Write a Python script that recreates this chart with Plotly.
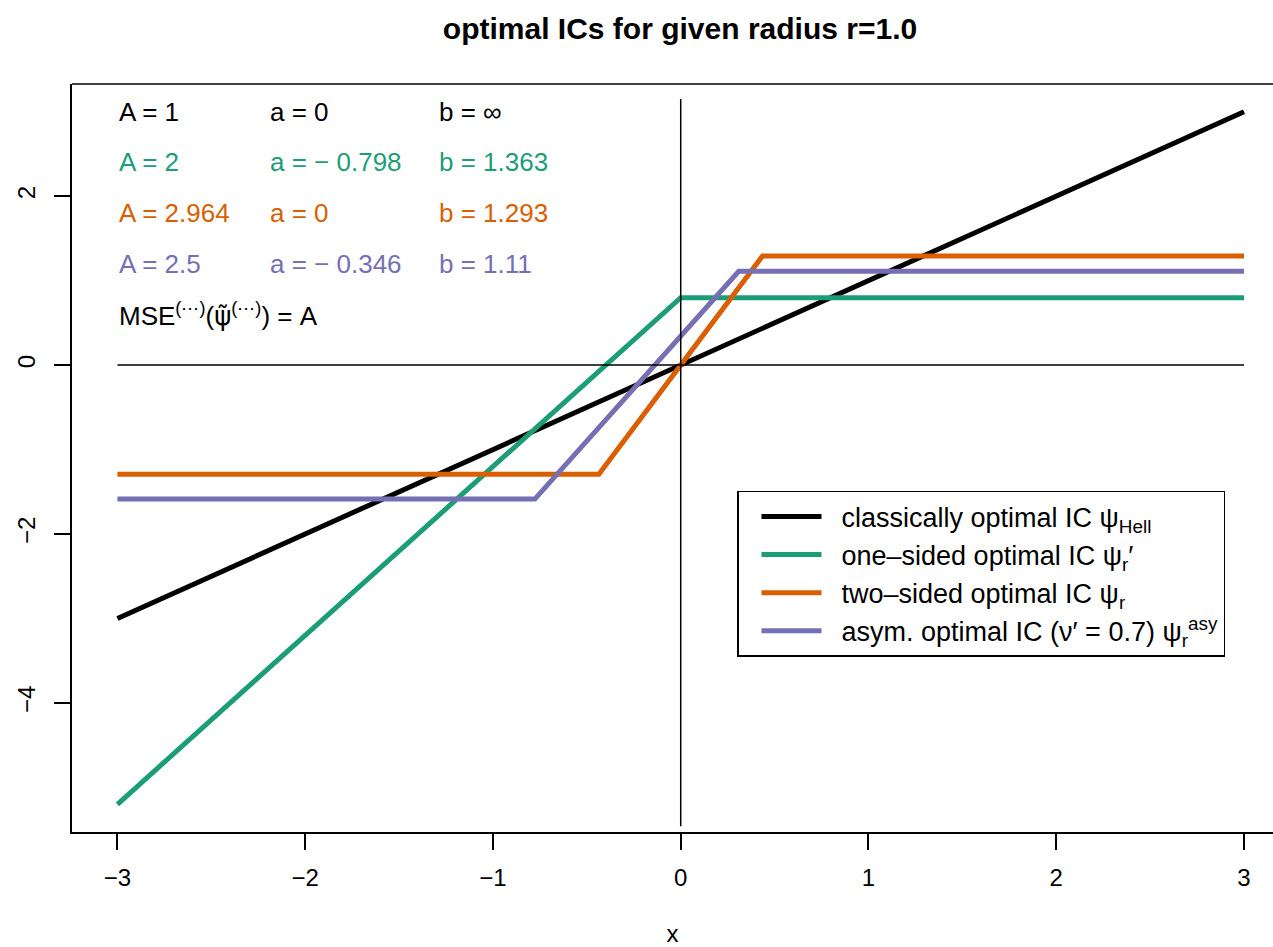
import plotly.graph_objects as go

# ---- data ----
x_classic = [-3, 3]
y_classic = [-3, 3]
x_onesided = [-3, 0, 3]
y_onesided = [-5.2, 0.798, 0.798]
x_twosided = [-3, -0.436, 0.436, 3]
y_twosided = [-1.293, -1.293, 1.293, 1.293]
x_asym = [-3, -0.777, 0.309, 3]
y_asym = [-1.586, -1.586, 1.11, 1.11]

x_hline = [-3, 3]
y_hline = [0, 0]
x_vline = [0, 0]
y_vline = [-5.46, 3.15]

NB = "\u00a0\u00a0"
series_names = [
    NB + "classically optimal IC ψ<sub>Hell</sub>",
    NB + "one–sided optimal IC ψ<sub>r</sub>′",
    NB + "two–sided optimal IC ψ<sub>r</sub>",
    NB + "asym. optimal IC (ν′ = 0.7) ψ<sub>r</sub><sup>asy</sup>",
]
colors = ["#000000", "#1B9E77", "#D95F02", "#7570B3"]

col_A = ["A = 1", "A = 2", "A = 2.964", "A = 2.5"]
col_a = ["a = 0", "a = − 0.798", "a = 0", "a = − 0.346"]
col_b = ["b = ∞", "b = 1.363", "b = 1.293", "b = 1.11"]
row_y = [3.0, 2.4, 1.8, 1.2]
col_x = [-3.0, -2.2, -1.3]
mse_text = ("MSE<sup>(⋯)</sup>(<span style=\"font-family:DejaVu Sans\">ψ̃</span>"
            "<sup>(⋯)</sup>) = A")
mse_y = 0.6

x_ticks = [-3, -2, -1, 0, 1, 2, 3]
y_ticks = [-4, -2, 0, 2]

FONT = "Liberation Sans, Arial, Helvetica, sans-serif"

fig = go.Figure()
series = [(x_classic, y_classic), (x_onesided, y_onesided),
          (x_twosided, y_twosided), (x_asym, y_asym)]
for (xs, ys), name, c in zip(series, series_names, colors):
    fig.add_trace(go.Scatter(x=xs, y=ys, mode="lines", name=name,
                             line=dict(color=c, width=5)))

fig.add_trace(go.Scatter(x=x_hline, y=y_hline, mode="lines", showlegend=False,
                         line=dict(color="black", width=1.5), hoverinfo="skip"))
fig.add_trace(go.Scatter(x=x_vline, y=y_vline, mode="lines", showlegend=False,
                         line=dict(color="black", width=1.5), hoverinfo="skip"))

annotations = []
for i, yv in enumerate(row_y):
    for xv, txt in zip(col_x, [col_A[i], col_a[i], col_b[i]]):
        annotations.append(dict(x=xv, y=yv, xref="x", yref="y", text=txt,
                                showarrow=False, xanchor="left", yanchor="middle",
                                font=dict(family=FONT, size=26, color=colors[i])))
annotations.append(dict(x=col_x[0], y=mse_y, xref="x", yref="y", text=mse_text,
                        showarrow=False, xanchor="left", yanchor="middle",
                        font=dict(family=FONT, size=26, color="black")))

fig.update_layout(
    width=1273, height=947,
    margin=dict(l=72, r=0, t=84, b=113),
    paper_bgcolor="white", plot_bgcolor="white",
    font=dict(family=FONT, color="black"),
    title=dict(text="<b>optimal ICs for given radius r=1.0</b>",
               x=(680 - 72) / 1201, xref="paper", xanchor="center",
               y=1 - 28 / 947, yref="container", yanchor="middle",
               font=dict(family=FONT, size=30, color="black")),
    xaxis=dict(range=[-3.242, 3 + (1273 - 1244) / 187.8],
               tickmode="array", tickvals=x_ticks,
               showline=True, linecolor="black", linewidth=1.5, mirror=False,
               ticks="outside", ticklen=16, tickwidth=1.5, tickcolor="black",
               showgrid=False, zeroline=False,
               tickfont=dict(family=FONT, size=24, color="black"),
               ticklabelstandoff=7,
               title=dict(text="x", standoff=40,
                          font=dict(family=FONT, size=24, color="black"))),
    yaxis=dict(range=[-5.528, 3.328],
               tickmode="array", tickvals=y_ticks,
               showline=True, linecolor="black", linewidth=1.5, mirror=False,
               ticks="outside", ticklen=16, tickwidth=1.5, tickcolor="black",
               showgrid=False, zeroline=False, tickangle=-90,
               tickfont=dict(family=FONT, size=24, color="black"),
               ticklabelstandoff=10),
    legend=dict(x=(737 - 72) / 1201, y=(834 - 492) / 750, xanchor="left", yanchor="top",
                bordercolor="black", borderwidth=1.5, bgcolor="white",
                font=dict(family=FONT, size=27, color="black"),
                itemwidth=60, indentation=18, tracegroupgap=0),
    shapes=[dict(type="line", xref="paper", yref="paper", x0=0, x1=1, y0=1, y1=1,
                 line=dict(color="black", width=1.5))],
    annotations=annotations,
    showlegend=True,
)

fig.write_html("out.html")
